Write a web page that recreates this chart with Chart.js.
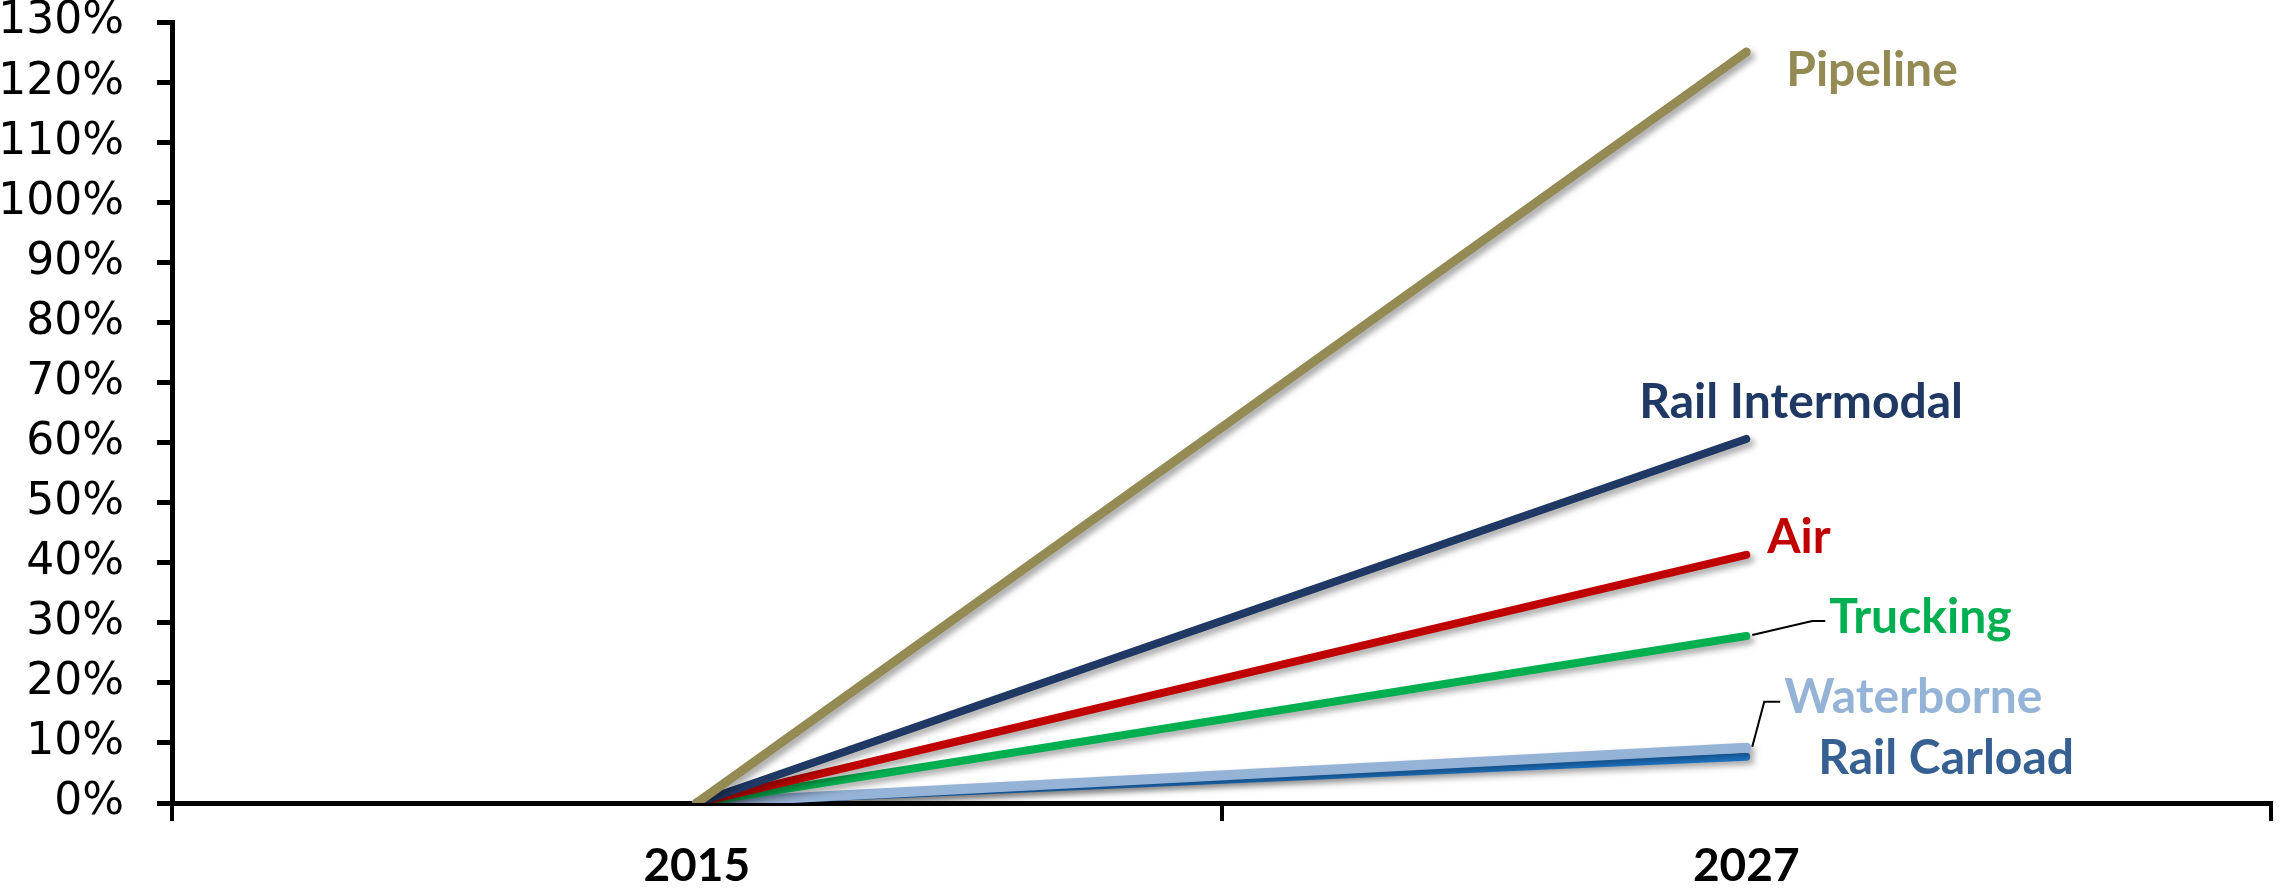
<!DOCTYPE html>
<html>
<head>
<meta charset="utf-8">
<script src="https://cdn.jsdelivr.net/npm/chart.js@4.4.1/dist/chart.umd.min.js"></script>
<style>
    body { margin: 0; background: #fff; }
    #wrap { width: 2280px; height: 893px; }
</style>
</head>
<body>
<div id="wrap"><canvas id="myChart" width="2280" height="893"></canvas></div>
<script>
// data (growth 2015 -> 2027, in %)
const years = ['2015', '2027'];
const seriesNames = ['Pipeline', 'Rail Intermodal', 'Air', 'Trucking', 'Waterborne', 'Rail Carload'];
const pipeline = [0, 125];
const railIntermodal = [0, 60.6];
const air = [0, 41.3];
const trucking = [0, 27.8];
const waterborne = [0, 9.2];
const railCarload = [0, 7.7];
const yTickValues = [0, 10, 20, 30, 40, 50, 60, 70, 80, 90, 100, 110, 120, 130];

// styles
const lineColors = ['#948A54', '#1F3864', '#C00000', '#00B050', '#95B3D7', '#1F78CC'];
const labelColors = ['#948A54', '#1F3864', '#C00000', '#00B050', '#95B3D7', '#366092'];
const lineWidths = [9, 8, 8, 8, 10, 8];
// label offset from the end of each line (text left edge, text middle)
const labelOffsets = [[40, 18], [-107, -36], [21, -17], [83, -18], [38, -50], [72, 2]];

const seriesData = [pipeline, railIntermodal, air, trucking, waterborne, railCarload];

const datasets = [];
for (let i = 0; i < seriesNames.length; i++) {
    datasets.push({
        label: seriesNames[i],
        data: seriesData[i],
        borderColor: lineColors[i],
        backgroundColor: lineColors[i],
        borderWidth: lineWidths[i],
        borderCapStyle: 'round',
        pointRadius: 0,
        tension: 0,
        fill: false
    });
}

// soft drop shadow under each line
const shadowPlugin = {
    id: 'shadow',
    beforeDatasetDraw(chart) {
        const ctx = chart.ctx;
        ctx.save();
        ctx.shadowColor = 'rgba(0,0,0,0.35)';
        ctx.shadowBlur = 6;
        ctx.shadowOffsetX = 4;
        ctx.shadowOffsetY = 4;
    },
    afterDatasetDraw(chart) {
        chart.ctx.restore();
    }
};

// series names next to the line ends, with the two leader lines
const endLabels = {
    id: 'endLabels',
    afterDatasetsDraw(chart) {
        const ctx = chart.ctx;
        ctx.save();
        ctx.font = 'bold 48px Lato';
        ctx.textBaseline = 'middle';
        ctx.textAlign = 'left';
        for (let i = 0; i < seriesNames.length; i++) {
            const pt = chart.getDatasetMeta(i).data[1];
            const tx = pt.x + labelOffsets[i][0];
            const ty = pt.y + labelOffsets[i][1];
            ctx.fillStyle = labelColors[i];
            ctx.fillText(seriesNames[i], tx, ty);

            if (seriesNames[i] === 'Trucking' || seriesNames[i] === 'Waterborne') {
                const dy = seriesNames[i] === 'Trucking' ? 3 : 4;
                ctx.strokeStyle = '#000';
                ctx.lineWidth = 2;
                ctx.beginPath();
                ctx.moveTo(pt.x + 6, pt.y - 1);
                ctx.lineTo(tx - (seriesNames[i] === 'Trucking' ? 17 : 20), ty + dy);
                ctx.lineTo(tx - 4, ty + dy);
                ctx.stroke();
            }
        }
        ctx.restore();
    }
};

const ctx = document.getElementById('myChart');
new Chart(ctx, {
    type: 'line',
    data: { labels: years, datasets: datasets },
    options: {
        responsive: false,
        animation: false,
        layout: { padding: { top: 22, right: 9, left: 0, bottom: 0 } },
        plugins: {
            legend: { display: false },
            tooltip: { enabled: false }
        },
        scales: {
            x: {
                type: 'category',
                offset: true,
                grid: {
                    offset: true,
                    drawOnChartArea: false,
                    drawTicks: true,
                    tickLength: 18,
                    lineWidth: 4,
                    color: '#000'
                },
                border: { display: true, color: '#000', width: 5 },
                ticks: {
                    color: '#000',
                    font: { family: 'Lato', weight: 'bold', size: 46 },
                    padding: 18
                },
                afterFit(scale) { scale.height = 90; }
            },
            y: {
                min: 0,
                max: 130,
                afterBuildTicks(scale) {
                    scale.ticks = yTickValues.map(v => ({ value: v }));
                },
                grid: {
                    drawOnChartArea: false,
                    drawTicks: true,
                    tickLength: 15,
                    lineWidth: 5,
                    color: '#000'
                },
                border: { display: true, color: '#000', width: 5 },
                ticks: {
                    color: '#000',
                    font: { family: 'DejaVu Sans', size: 44 },
                    padding: 33,
                    callback: v => v + '%'
                },
                afterFit(scale) {
                    scale.width = 172;
                    // let the top label hang over the edge like the original
                    scale.paddingTop = 0;
                    scale.paddingBottom = 0;
                }
            }
        }
    },
    plugins: [shadowPlugin, endLabels]
});
</script>
</body>
</html>
